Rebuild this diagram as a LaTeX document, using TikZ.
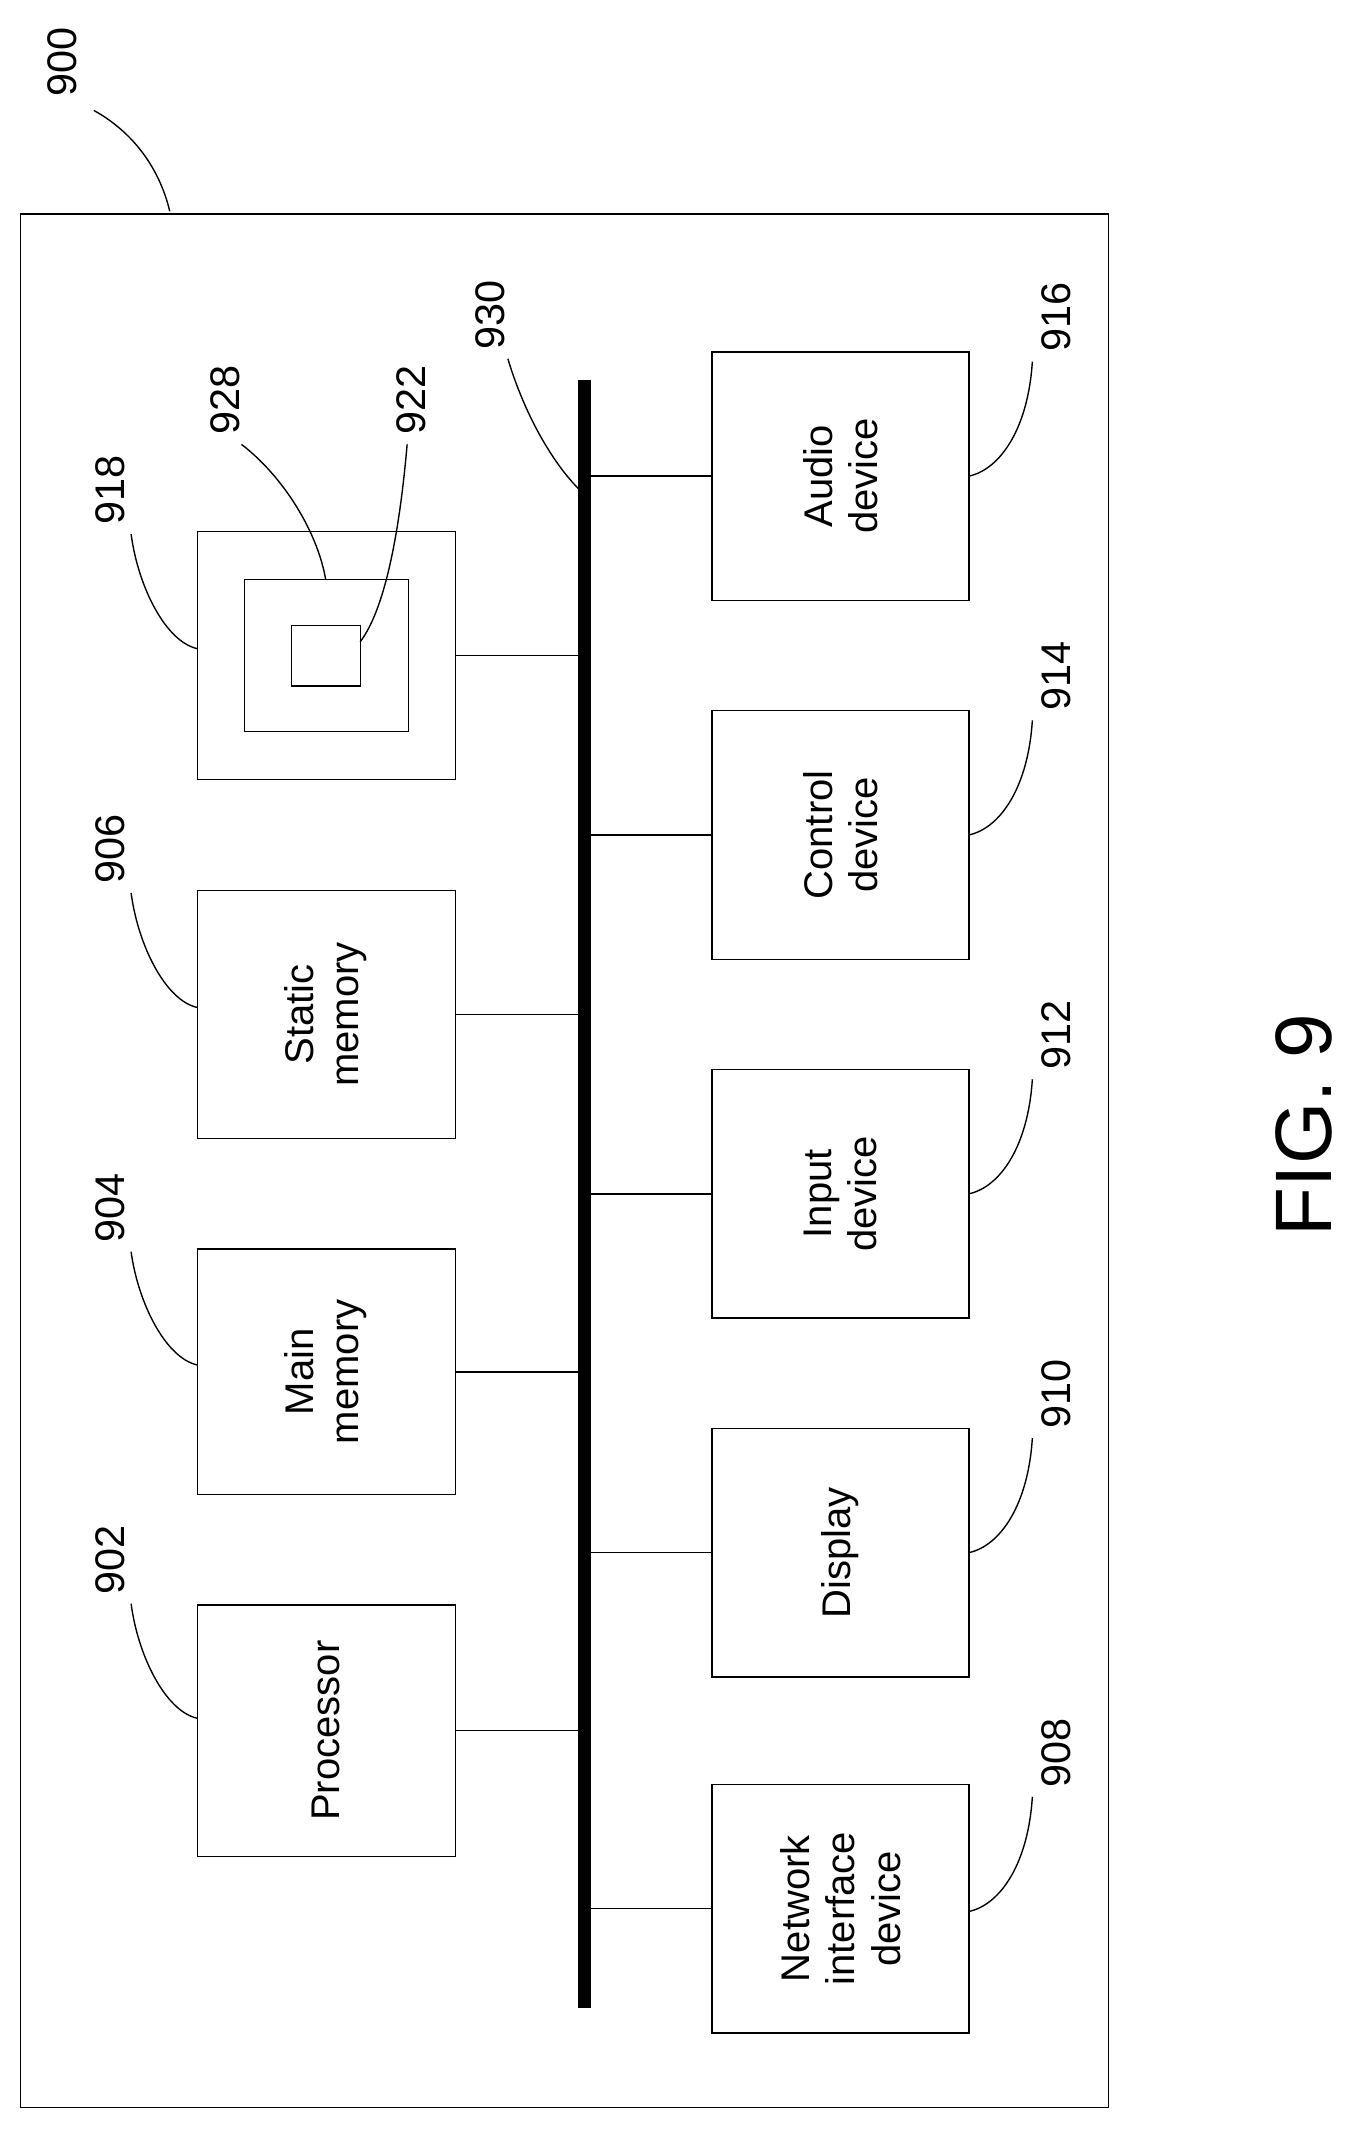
\documentclass[tikz,border=0pt]{standalone}
\usepackage{fontspec}
\setmainfont{Liberation Sans}
\begin{document}
\begin{tikzpicture}[x=1pt,y=-1pt,
 box/.style={draw,line width=1pt,inner sep=0},
 lbl/.style={rotate=90,font=\fontsize{29}{33}\selectfont,align=center},
 num/.style={rotate=90,font=\fontsize{30}{30}\selectfont},
 ln/.style={line width=1pt}]
\useasboundingbox (0,0) rectangle (975,1560);
\draw[ln] (15,155) rectangle (803,1527);
\fill (419,275) rectangle (428,1455);
\coordinate (busL) at (419,0); \coordinate (busR) at (428,0);
% left boxes
\foreach \n/\ya/\yb/\t in {proc/1163/1345/Processor, mm/905/1083/{Main\\memory}, sm/645/825/{Static\\memory}}{
 \draw[ln] (143,\ya) rectangle (330,\yb);
 \node[lbl] (\n) at (236,{(\ya+\yb)/2}) {\t};
 \draw[ln] (330,{(\ya+\yb)/2}) -- (419,{(\ya+\yb)/2});
}
\draw[ln] (143,385) rectangle (330,565);
\draw[ln] (177,420) rectangle (296,530);
\draw[ln] (211,453) rectangle (261,497);
\draw[ln] (330,475) -- (419,475);
% right boxes
\foreach \ya/\t in {255/{Audio\\device}, 515/{Control\\device}, 775/{Input\\device}, 1035/Display, 1293/{Network\\interface\\device}}{
 \draw[ln] (516,\ya) rectangle (702,\ya+180);
 \node[lbl] at (609,\ya+90) {\t};
 \draw[ln] (428,\ya+90) -- (516,\ya+90);
}
% numbers
\node[num] (n900) at (45,45) {900};
\draw[ln] (68,80) .. controls (95,95) and (115,120) .. (123,153);
\foreach \y/\t/\ty in {1130/902/1250, 875/904/994, 615/906/735, 355/918/475}{
 \node[num] at (80,\y) {\t};
 \draw[ln] (95,\y+32) .. controls (100,\ty-50) and (120,\ty-10) .. (143,\ty-5);
}
\node[num] at (163,290) {928};
\draw[ln] (175,322) .. controls (205,345) and (230,385) .. (236,420);
\node[num] at (298,290) {922};
\draw[ln] (295,322) .. controls (290,380) and (280,440) .. (261,465);
\node[num] at (355,228) {930};
\draw[ln] (368,260) .. controls (380,300) and (400,335) .. (420,355);
\foreach \y/\t in {230/916, 490/914, 750/912, 1010/910, 1270/908}{
 \node[num] at (765,\y) {\t};
 \draw[ln] (748,\y+32) .. controls (745,\y+80) and (725,\y+110) .. (702,\y+115);
}
\node[rotate=90,font=\fontsize{58}{60}\selectfont] (fig) at (945,815) {FIG. 9};
\end{tikzpicture}
\end{document}
